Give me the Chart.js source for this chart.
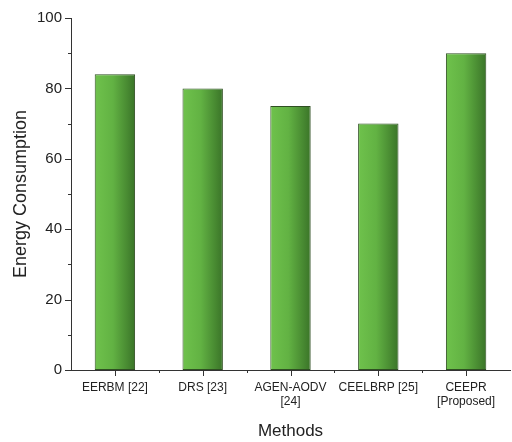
<!DOCTYPE html>
<html>
<head>
<meta charset="utf-8">
<script src="https://cdn.jsdelivr.net/npm/chart.js@4/dist/chart.umd.min.js"></script>
<style>
  html, body { margin: 0; padding: 0; background: #fff; }
  #wrap { width: 512px; height: 442px; }
</style>
</head>
<body>
<div id="wrap"><canvas id="c" width="512" height="442"></canvas></div>
<script>
const methods = [
  'EERBM [22]',
  'DRS [23]',
  ['AGEN-AODV', '[24]'],
  'CEELBRP [25]',
  ['CEEPR', '[Proposed]']
];
const energy = [84, 80, 75, 70, 90];
const yTicks = [0, 20, 40, 60, 80, 100];
const yMinorTicks = [10, 30, 50, 70, 90];

const axisColor = '#333333';
const font = "'Liberation Sans', Arial, sans-serif";

// Left-to-right shading of each bar, from light to dark green
function barFill(context) {
  const chart = context.chart;
  const xs = chart.scales.x;
  if (!xs || !chart.chartArea) return '#5ba63c';
  const center = xs.getPixelForValue(context.dataIndex);
  const half = xs.width / methods.length * 0.46 / 2;
  const g = chart.ctx.createLinearGradient(center - half, 0, center + half, 0);
  g.addColorStop(0, '#6fc24c');
  g.addColorStop(0.45, '#62b243');
  g.addColorStop(1, '#3a7428');
  return g;
}

// Major and minor tick marks drawn outward from both axes
const tickMarks = {
  id: 'tickMarks',
  afterDraw(chart) {
    const { ctx, scales: { x, y } } = chart;
    ctx.save();
    ctx.strokeStyle = axisColor;
    ctx.lineWidth = 1;
    const left = x.left, bottom = y.bottom;
    ctx.beginPath();
    yTicks.forEach(v => {
      const p = Math.round(y.getPixelForValue(v)) + 0.5;
      ctx.moveTo(left - 6, p); ctx.lineTo(left, p);
    });
    yMinorTicks.forEach(v => {
      const p = Math.round(y.getPixelForValue(v)) + 0.5;
      ctx.moveTo(left - 3, p); ctx.lineTo(left, p);
    });
    methods.forEach((m, i) => {
      const p = Math.round(x.getPixelForValue(i)) + 0.5;
      ctx.moveTo(p, bottom); ctx.lineTo(p, bottom + 6);
      if (i < methods.length - 1) {
        const q = Math.round((x.getPixelForValue(i) + x.getPixelForValue(i + 1)) / 2) + 0.5;
        ctx.moveTo(q, bottom); ctx.lineTo(q, bottom + 3);
      }
    });
    ctx.stroke();
    ctx.restore();
  }
};

new Chart(document.getElementById('c'), {
  type: 'bar',
  data: {
    labels: methods,
    datasets: [{
      data: energy,
      backgroundColor: barFill,
      borderColor: '#2f4f22',
      borderWidth: 1,
      borderSkipped: false,
      barPercentage: 0.46,
      categoryPercentage: 1
    }]
  },
  options: {
    responsive: false,
    animation: false,
    devicePixelRatio: 1,
    layout: { padding: { top: 10, right: 2, left: 0, bottom: 0 } },
    plugins: {
      legend: { display: false },
      tooltip: { enabled: false }
    },
    scales: {
      x: {
        offset: true,
        grid: { display: false, drawTicks: false },
        border: { display: true, color: axisColor, width: 1 },
        ticks: {
          color: '#222',
          font: { family: font, size: 12 },
          padding: 10,
          maxRotation: 0,
          autoSkip: false
        },
        title: {
          display: true,
          text: 'Methods',
          color: '#222',
          font: { family: font, size: 17 },
          padding: { top: 2, bottom: 0 }
        },
        afterFit(scale) { scale.height = 72; }
      },
      y: {
        min: 0,
        max: 100,
        afterBuildTicks(scale) { scale.ticks = yTicks.map(v => ({ value: v })); },
        grid: { display: false, drawTicks: false },
        border: { display: true, color: axisColor, width: 1 },
        ticks: {
          color: '#222',
          font: { family: font, size: 15 },
          padding: 9
        },
        title: {
          display: true,
          text: 'Energy Consumption',
          color: '#222',
          font: { family: font, size: 18 },
          padding: { top: 10, bottom: 0 }
        },
        afterFit(scale) { scale.width = 71; }
      }
    }
  },
  plugins: [tickMarks]
});
</script>
</body>
</html>
